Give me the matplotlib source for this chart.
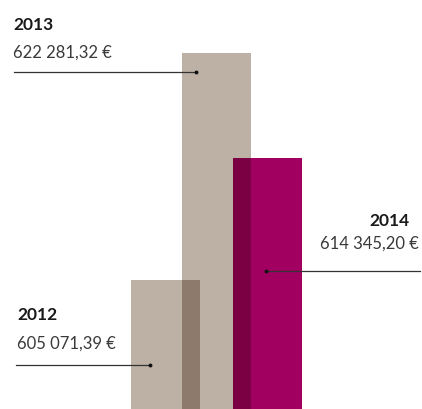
import matplotlib
matplotlib.use('Agg')
import matplotlib.pyplot as plt
from matplotlib.lines import Line2D

years = ['2012', '2013', '2014']
values = [605071.39, 622281.32, 614345.20]
value_labels = ['605 071,39 €', '622 281,32 €', '614 345,20 €']

W, H = 422, 410
fig = plt.figure(figsize=(W / 100, H / 100), dpi=100)
ax = fig.add_axes([0, 0, 1, 1])
ax.set_axis_off()

# x: 51 px per step, first bar centred at 165.5 px
ax.set_xlim(-165.5 / 51, (W - 165.5) / 51)
# y: baseline at the bottom edge, ~75.8 units per px
base = 595291.0
ax.set_ylim(base, base + H * 75.815)

width = 69 / 51
tan, tan_dark = '#bdb0a5', '#8e7a6c'
mag, mag_dark = '#a10061', '#7a0043'
colors = [tan, tan, mag]

x = list(range(len(values)))
ax.bar(x, [v - base for v in values], width=width, bottom=base, color=colors, linewidth=0)

# overlapping parts are darker
for i, c in [(0, tan_dark), (1, mag_dark)]:
    left = x[i + 1] - width / 2
    right = x[i] + width / 2
    h = min(values[i], values[i + 1])
    ax.bar((left + right) / 2, h - base, width=right - left, bottom=base, color=c, linewidth=0)


def px(xp, yp):
    return xp / W, 1 - yp / H


family = ['Lato', 'DejaVu Sans']

# (label x, label y, value y, align, line x0, line x1, line y, dot x)
notes = [
    (17, 315, 344, 'left', 16, 150, 366, 150),
    (13, 25, 53, 'left', 14, 196, 73, 196),
    (419, 221, 244, 'right', 266, 420, 272, 266),
]
for (yr, lab), (lx, ly, vy, ha, x0, x1, yl, dx) in zip(zip(years, value_labels), notes):
    tx = lx if ha == 'left' else lx - 10
    fig.text(*px(tx, ly), yr, ha=ha, va='center', fontsize=12.5, fontweight='bold',
             color='#1a1a1a', family=family)
    fig.text(*px(lx, vy), lab, ha=ha, va='center', fontsize=12, fontweight='normal',
             color='#3a3a3a', family=family)
    (a0, b0), (a1, b1) = px(x0, yl), px(x1, yl)
    fig.add_artist(Line2D([a0, a1], [b0, b0], color='#333333', lw=0.9))
    fig.add_artist(Line2D([px(dx, yl)[0]], [b0], marker='o', markersize=1.8,
                          color='#111111', lw=0))

fig.savefig('out.png', dpi=100)
